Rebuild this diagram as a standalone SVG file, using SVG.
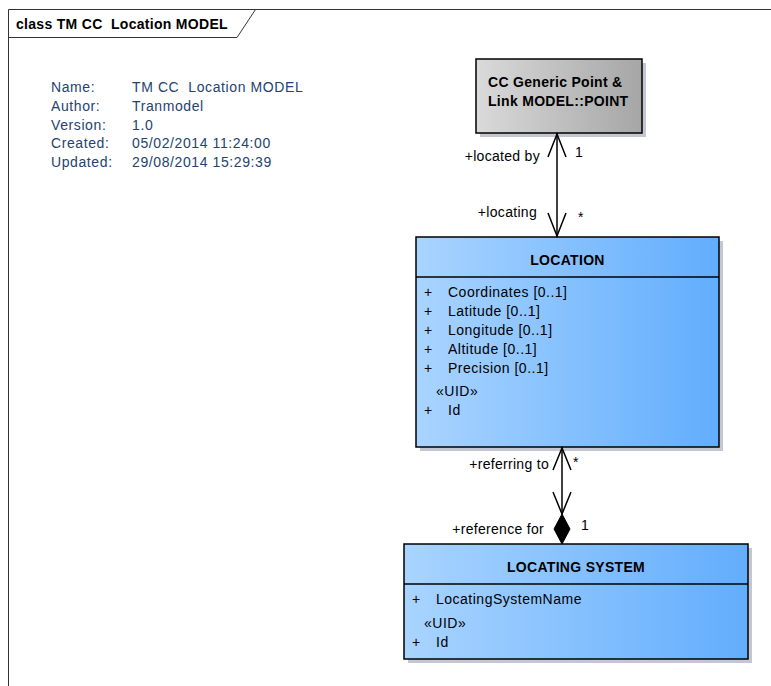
<svg xmlns="http://www.w3.org/2000/svg" width="771" height="686" viewBox="0 0 771 686">
<defs>
<linearGradient id="gBlue" x1="0" y1="0" x2="1" y2="0">
<stop offset="0" stop-color="#A9D4FF"/>
<stop offset="1" stop-color="#62ADFD"/>
</linearGradient>
<linearGradient id="gGray" x1="0" y1="0" x2="1" y2="0">
<stop offset="0" stop-color="#DADADA"/>
<stop offset="1" stop-color="#A6A6A6"/>
</linearGradient>
<style>
text{font-family:"Liberation Sans",Arial,sans-serif;fill:#000;white-space:pre}
.t{font-size:14px;font-weight:bold;letter-spacing:0.3px}
.a{font-size:14px;letter-spacing:0.5px}
.i{font-size:14px;letter-spacing:0.6px;fill:#24436F}
.l{font-size:14px;letter-spacing:0.3px}
.shadow{fill:#C4C6D2}
.box{stroke:#000;stroke-width:1.5}
.ln{stroke:#000;stroke-width:1.5;fill:none}
</style>
</defs>
<rect width="771" height="686" fill="#fff"/>
<g id="frame">
<path d="M8.5 686 V9.5 H771" fill="none" stroke="#333" stroke-width="1"/>
<path d="M8.5 37.5 H237 L255.5 9.5" fill="none" stroke="#333" stroke-width="1"/>
<text x="16" y="29" class="t" xml:space="preserve">class TM CC  Location MODEL</text>
</g>
<g id="info">
<text x="51" y="92" class="i">Name:</text>
<text x="132" y="92" class="i" xml:space="preserve">TM CC  Location MODEL</text>
<text x="51" y="110.5" class="i">Author:</text>
<text x="132" y="110.5" class="i">Tranmodel</text>
<text x="51" y="129.5" class="i">Version:</text>
<text x="132" y="129.5" class="i">1.0</text>
<text x="51" y="148" class="i">Created:</text>
<text x="132" y="148" class="i">05/02/2014 11:24:00</text>
<text x="51" y="166.5" class="i">Updated:</text>
<text x="132" y="166.5" class="i">29/08/2014 15:29:39</text>
</g>
<g id="point">
<rect x="480" y="63" width="166" height="74" class="shadow"/>
<rect x="476" y="59" width="166" height="74" fill="url(#gGray)" class="box"/>
<text x="488" y="87" class="t">CC Generic Point &amp;</text>
<text x="488" y="106" class="t">Link MODEL::POINT</text>
</g>
<g id="location">
<rect x="420" y="241" width="303" height="210" class="shadow"/>
<rect x="416" y="237" width="303" height="210" fill="url(#gBlue)" class="box"/>
<line x1="416" y1="277" x2="719" y2="277" class="ln"/>
<text x="567.5" y="265" class="t" text-anchor="middle">LOCATION</text>
<text x="424" y="297" class="a">+</text><text x="448" y="297" class="a">Coordinates [0..1]</text>
<text x="424" y="316" class="a">+</text><text x="448" y="316" class="a">Latitude [0..1]</text>
<text x="424" y="335" class="a">+</text><text x="448" y="335" class="a">Longitude [0..1]</text>
<text x="424" y="354" class="a">+</text><text x="448" y="354" class="a">Altitude [0..1]</text>
<text x="424" y="373" class="a">+</text><text x="448" y="373" class="a">Precision [0..1]</text>
<text x="436" y="396" class="a">«UID»</text>
<text x="424" y="415" class="a">+</text><text x="448" y="415" class="a">Id</text>
</g>
<g id="locating-system">
<rect x="408" y="548" width="344" height="115" class="shadow"/>
<rect x="404" y="544" width="344" height="115" fill="url(#gBlue)" class="box"/>
<line x1="404" y1="584" x2="748" y2="584" class="ln"/>
<text x="576" y="572" class="t" text-anchor="middle">LOCATING SYSTEM</text>
<text x="412" y="604" class="a">+</text><text x="436" y="604" class="a">LocatingSystemName</text>
<text x="424" y="628" class="a">«UID»</text>
<text x="412" y="647" class="a">+</text><text x="436" y="647" class="a">Id</text>
</g>
<g id="connectors">
<g id="c1">
<line x1="557" y1="133" x2="557" y2="237" class="ln"/>
<path d="M548 157 L557 134 L566 157" class="ln"/>
<path d="M548 213 L557 236 L566 213" class="ln"/>
<text x="540" y="161" class="l" text-anchor="end">+located by</text>
<text x="575" y="157" class="l">1</text>
<text x="537" y="217" class="l" text-anchor="end">+locating</text>
<text x="578" y="222" class="l">*</text>
</g>
<g id="c2">
<line x1="562" y1="447" x2="562" y2="514" class="ln"/>
<path d="M553 470 L562 448 L571 470" class="ln"/>
<path d="M553 492 L562 514 L571 492" class="ln"/>
<path d="M562 514 L570 529 L562 544 L554 529 Z" fill="#000" stroke="#000" stroke-width="1"/>
<text x="549" y="469" class="l" text-anchor="end">+referring to</text>
<text x="573" y="467" class="l">*</text>
<text x="544" y="534" class="l" text-anchor="end">+reference for</text>
<text x="581" y="530" class="l">1</text>
</g>
</g>
</svg>
